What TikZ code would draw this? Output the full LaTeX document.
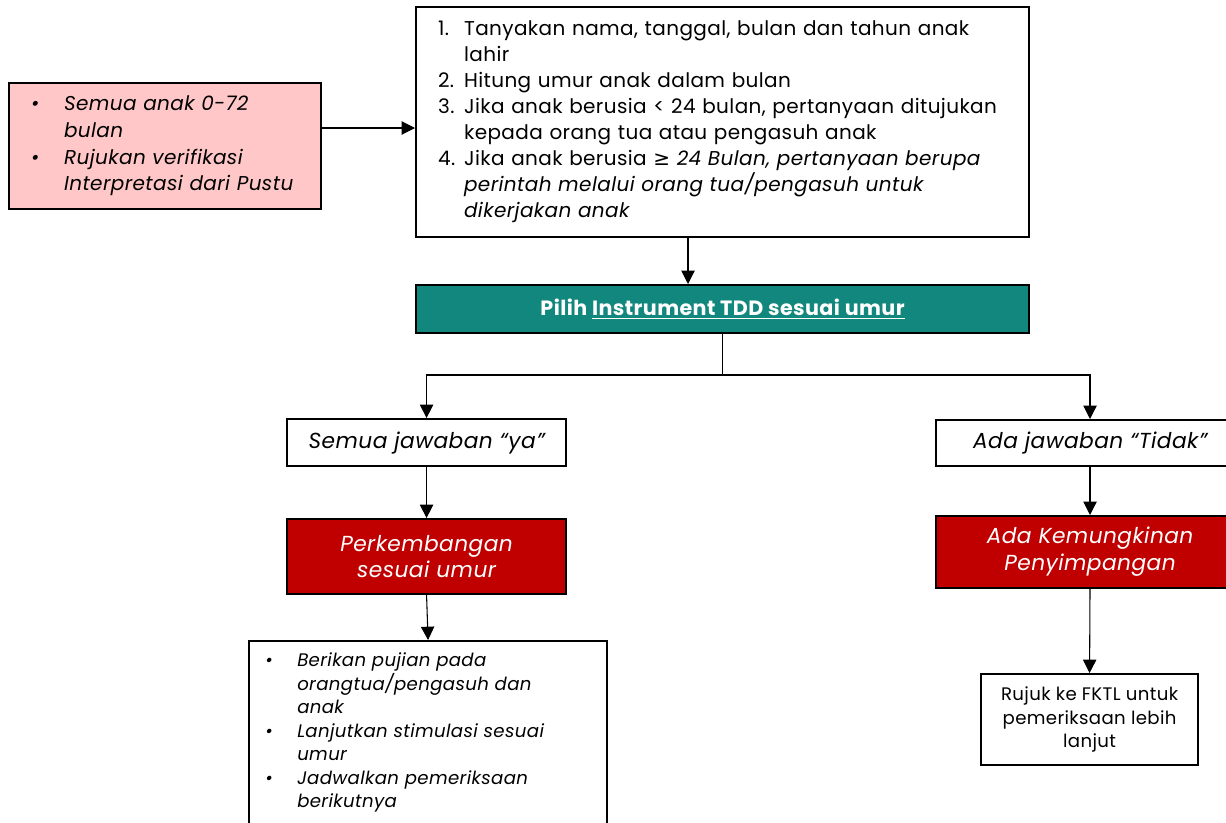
\documentclass[tikz,border=0pt]{standalone}
\usepackage{fontspec}
\setmainfont{Poppins}[LetterSpace=2]
\newfontfamily\symfont{DejaVu Sans}
\usetikzlibrary{arrows.meta}

\definecolor{pinkfill}{HTML}{FFC7C7}
\definecolor{tealfill}{HTML}{12877D}
\definecolor{redfill}{HTML}{C00000}

\newcommand{\bul}[1]{\makebox[#1][l]{\textbullet}}

\begin{document}
\begin{tikzpicture}[x=0.75pt,y=-0.75pt,
  box/.style={draw, line width=1.6pt, inner sep=0pt},
  bodyfont/.style={font=\fontsize{15}{19.5}\selectfont},
  introfont/.style={font=\fontsize{15}{20}\selectfont\itshape},
  listfont/.style={font=\fontsize{13.6}{17.6}\selectfont\itshape},
  notefont/.style={font=\fontsize{13.6}{17.6}\selectfont},
  answerfont/.style={font=\fontsize{16.3}{20.2}\selectfont\itshape},
  headfont/.style={font=\fontsize{15.5}{19}\selectfont\bfseries},
  arr/.style={-{Triangle[width=10pt,length=10pt]}, line width=0.8pt},
  conn/.style={line width=0.8pt}]
\clip (0,0) rectangle (1226,822);

% helper rows / columns for connectors
\coordinate (rowA) at (0,128);
\coordinate (rowB) at (0,375);
\coordinate (colA) at (688,0);
\coordinate (colB) at (1090,0);

% intake box
\node (intake) [box, fill=pinkfill, anchor=north west, minimum height=94.5pt,
  text width=201pt, inner xsep=16.5pt, align=left, introfont] at (8,82)
  {\bul{24.75pt}Semua anak 0-72\\
   \hspace*{24.75pt}bulan\\
   \bul{24.75pt}Rujukan verifikasi\\
   \hspace*{24.75pt}Interpretasi dari Pustu};

% step list
\node (steps) [box, fill=white, anchor=north west, minimum height=172.5pt,
  text width=426.75pt, inner xsep=16.5pt, align=left, bodyfont] at (415,6)
  {\makebox[19.5pt][l]{1.}Tanyakan nama, tanggal, bulan dan tahun anak\\
   \hspace*{19.5pt}lahir\\
   \makebox[19.5pt][l]{2.}Hitung umur anak dalam bulan\\
   \makebox[19.5pt][l]{3.}Jika anak berusia < 24 bulan, pertanyaan ditujukan\\
   \hspace*{19.5pt}kepada orang tua atau pengasuh anak\\
   \makebox[19.5pt][l]{4.}Jika anak berusia {\symfont ≥} \textit{24 Bulan, pertanyaan berupa}\\
   \hspace*{19.5pt}\textit{perintah melalui orang tua/pengasuh untuk}\\
   \hspace*{19.5pt}\textit{dikerjakan anak}};

% instrument selection
\node (teal) [box, fill=tealfill, anchor=north west, minimum width=459.75pt,
  minimum height=36pt, text=white, headfont] at (415,284)
  {Pilih \underline{Instrument TDD sesuai umur}};

% answer branches
\node (ya) [box, fill=white, anchor=north west, minimum width=209.25pt,
  minimum height=35.25pt, answerfont] at (286,418)
  {Semua jawaban “ya”};
\node (tidak) [box, fill=white, anchor=north west, minimum width=231pt,
  minimum height=34.5pt, answerfont] at (935,419)
  {Ada jawaban “Tidak”};

% outcomes
\node (sesuai) [box, fill=redfill, anchor=north west, minimum width=209.25pt,
  minimum height=56.25pt, text=white, align=center, answerfont] at (286,518)
  {Perkembangan\\ sesuai umur};
\node (menyimpang) [box, fill=redfill, anchor=north west, minimum width=231pt,
  minimum height=54pt, text=white, align=center, answerfont] at (935,515)
  {Ada Kemungkinan\\ Penyimpangan};

% follow-up actions
\node (tindak) [box, fill=white, anchor=north west, minimum width=268.5pt,
  minimum height=150pt] at (248,640) {};
\node (tindaktext) [anchor=north west, align=left, inner sep=0pt, listfont]
  at ([xshift=12.75pt,yshift=-9.5pt]tindak.north west)
  {\bul{24pt}Berikan pujian pada\\
   \hspace*{24pt}orangtua/pengasuh dan\\
   \hspace*{24pt}anak\\
   \bul{24pt}Lanjutkan stimulasi sesuai\\
   \hspace*{24pt}umur\\
   \bul{24pt}Jadwalkan pemeriksaan\\
   \hspace*{24pt}berikutnya};
\node (rujuk) [box, fill=white, anchor=north west, minimum width=162.75pt,
  minimum height=68.25pt, align=center, notefont] at (980,673)
  {Rujuk ke FKTL untuk\\ pemeriksaan lebih\\ lanjut};

% connectors
\draw[arr] (intake.east |- rowA) -- (steps.west |- rowA);
\draw[arr] (steps.south -| colA) -- (teal.north -| colA);
\coordinate (split) at (teal.south |- rowB);
\draw[conn] (teal.south) -- (split);
\draw[arr] (split) -| (ya.north);
\draw[arr] (split) -| (tidak.north -| colB);
\draw[arr] (ya.south) -- (sesuai.north);
\draw[arr] (tidak.south -| colB) -- (menyimpang.north -| colB);
\draw[arr] (sesuai.south) -- (tindak.north);
\draw[arr] (menyimpang.south -| colB) -- (rujuk.north);
\end{tikzpicture}
\end{document}
